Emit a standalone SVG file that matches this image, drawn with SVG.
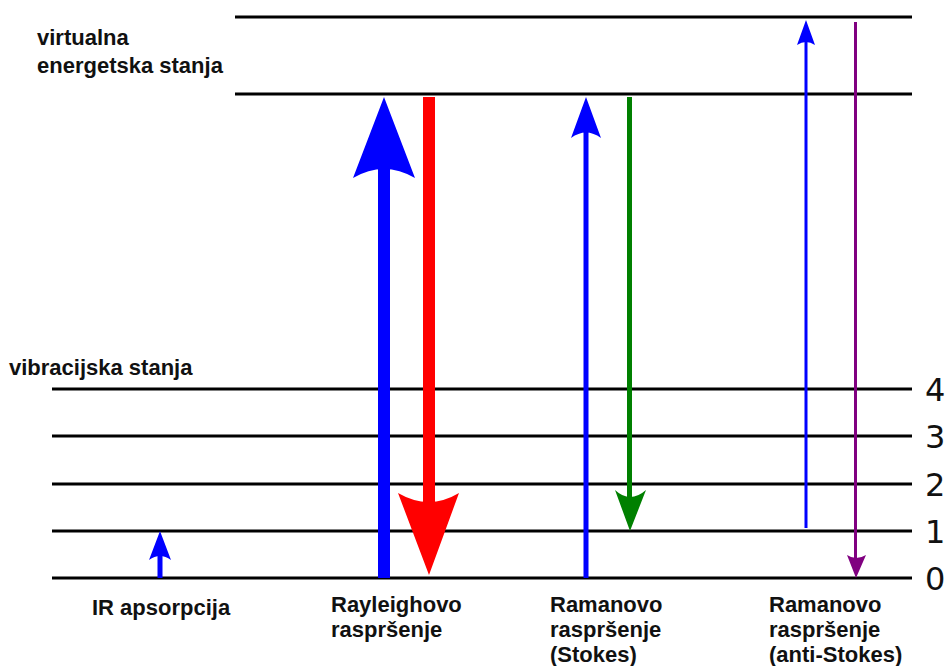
<svg xmlns="http://www.w3.org/2000/svg" width="949" height="666" viewBox="0 0 949 666">
<style>
.lvl{stroke:#000;stroke-width:3;fill:none}
.lbl{font-family:"Liberation Sans",Arial,sans-serif;font-weight:bold;font-size:22px;fill:#111}
.num{font-family:"DejaVu Sans",sans-serif;font-size:32px;fill:#111}
.b{fill:#0000ff}.r{fill:#ff0000}.g{fill:#008000}.p{fill:#800080}
</style>
<rect width="949" height="666" fill="#fff"/>
<g id="levels">
<line class="lvl" x1="235" y1="17" x2="912" y2="17"/>
<line class="lvl" x1="235" y1="94" x2="912" y2="94"/>
<line class="lvl" x1="52" y1="389" x2="912" y2="389"/>
<line class="lvl" x1="52" y1="436" x2="912" y2="436"/>
<line class="lvl" x1="52" y1="484" x2="912" y2="484"/>
<line class="lvl" x1="52" y1="531" x2="912" y2="531"/>
<line class="lvl" x1="52" y1="578" x2="912" y2="578"/>
</g>
<g id="level-numbers">
<text class="num" x="925" y="401">4</text>
<text class="num" x="925" y="448">3</text>
<text class="num" x="925" y="496">2</text>
<text class="num" x="925" y="543">1</text>
<text class="num" x="925" y="590">0</text>
</g>
<g id="headings">
<text class="lbl" x="37" y="45">virtualna</text>
<text class="lbl" x="37" y="73">energetska stanja</text>
<text class="lbl" x="9" y="375">vibracijska stanja</text>
</g>
<g id="connectors">
<g id="ir-arrow">
<rect class="b" x="157.5" y="552" width="5" height="26"/>
<path class="b" d="M160,531 L171,560 Q160,552 149,560 Z"/>
</g>
<g id="rayleigh-up">
<rect class="b" x="378" y="168" width="12" height="410"/>
<path class="b" d="M384,97 L415,178 Q384,160 353,178 Z"/>
</g>
<g id="rayleigh-down">
<rect class="r" x="423" y="97" width="12" height="406"/>
<path class="r" d="M398,493 Q429,511 459,493 L429,575 Z"/>
</g>
<g id="stokes-up">
<rect class="b" x="583.5" y="130" width="5" height="448"/>
<path class="b" d="M586,97 L601,138 Q586,127 571,138 Z"/>
</g>
<g id="stokes-down">
<rect class="g" x="627" y="97" width="5" height="402"/>
<path class="g" d="M615,490 Q630,504 646,490 L630,531 Z"/>
</g>
<g id="antistokes-up">
<rect class="b" x="804.5" y="38" width="3" height="490"/>
<path class="b" d="M806,20 L815,45 Q806,39 797,45 Z"/>
</g>
<g id="antistokes-down">
<rect class="p" x="854" y="22" width="3" height="536"/>
<path class="p" d="M847,555 Q856,561 866,555 L856,578 Z"/>
</g>
</g>
<g id="label-ir">
<text class="lbl" x="92" y="615">IR apsorpcija</text>
</g>
<g id="label-rayleigh">
<text class="lbl" x="331" y="612">Rayleighovo</text>
<text class="lbl" x="331" y="637">raspršenje</text>
</g>
<g id="label-stokes">
<text class="lbl" x="550" y="612">Ramanovo</text>
<text class="lbl" x="550" y="637">raspršenje</text>
<text class="lbl" x="550" y="662">(Stokes)</text>
</g>
<g id="label-antistokes">
<text class="lbl" x="769" y="612">Ramanovo</text>
<text class="lbl" x="769" y="637">raspršenje</text>
<text class="lbl" x="769" y="662">(anti-Stokes)</text>
</g>
</svg>
